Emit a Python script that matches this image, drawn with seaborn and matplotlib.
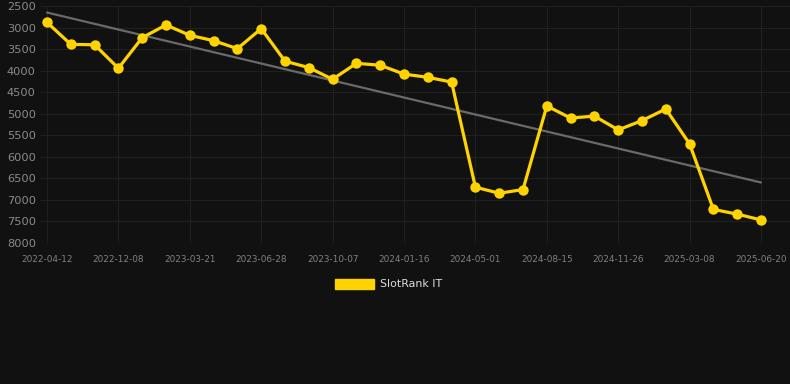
import numpy as np
import pandas as pd
import matplotlib
matplotlib.use("Agg")
import matplotlib.pyplot as plt
import matplotlib.patches as mpatches
import seaborn as sns

# ---- data ----
tick_labels = ["2022-04-12", "2022-12-08", "2023-03-21", "2023-06-28", "2023-10-07",
               "2024-01-16", "2024-05-01", "2024-08-15", "2024-11-26", "2025-03-08",
               "2025-06-20"]
rank_values = [2880, 3390, 3400, 3945, 3235, 2940, 3180, 3305, 3490, 3025,
               3780, 3930, 4200, 3830, 3875, 4080, 4155, 4265, 6705, 6845,
               6760, 4820, 5100, 5055, 5375, 5160, 4890, 5700, 7220, 7330,
               7465]
series_name = "SlotRank IT"
y_ticks = [2500, 3000, 3500, 4000, 4500, 5000, 5500, 6000, 6500, 7000, 7500, 8000]

df = pd.DataFrame({"idx": np.arange(len(rank_values)), "rank": rank_values})

BG = "#111111"
GOLD = "#FFD300"

sns.set_theme(style="dark")
plt.rcParams["font.family"] = ["DejaVu Sans"]

fig = plt.figure(figsize=(7.9, 3.84), dpi=100, facecolor=BG)
ax = fig.add_axes([40 / 790, 1 - 243 / 384, 750 / 790, 237 / 384])
ax.set_facecolor(BG)

# trend line
sns.regplot(data=df, x="idx", y="rank", ax=ax, scatter=False, ci=None,
            line_kws=dict(color="#6a6a6a", lw=1.6, zorder=2))

sns.lineplot(data=df, x="idx", y="rank", ax=ax, color=GOLD, lw=2.3,
             marker="o", markersize=7.5, markeredgewidth=0, zorder=3)

ax.set_ylim(8000, 2500)
ax.set_yticks(y_ticks)
ax.set_yticklabels([str(v) for v in y_ticks])
step = 23.8
ax.set_xlim(-7 / step, 30 + 29 / step)
ax.set_xticks(np.arange(0, len(rank_values), 3))
ax.set_xticklabels(tick_labels)

ax.grid(True, color="#202020", lw=0.8)
ax.set_axisbelow(True)
for s in ax.spines.values():
    s.set_visible(False)
ax.tick_params(axis="y", colors="#8a8a8a", labelsize=8.2, length=0, pad=3)
ax.tick_params(axis="x", colors="#808080", labelsize=6.4, length=0, pad=9)
ax.set_xlabel("")
ax.set_ylabel("")

handle = mpatches.Patch(facecolor=GOLD, edgecolor=GOLD, label=series_name)
leg = fig.legend(handles=[handle], loc="center", bbox_to_anchor=(0.492, 1 - 284 / 384),
                 frameon=False, fontsize=7.9, handlelength=3.6, handleheight=1.05,
                 handletextpad=0.55, labelcolor="#dddddd")

fig.savefig("out.png", dpi=100, facecolor=BG)
